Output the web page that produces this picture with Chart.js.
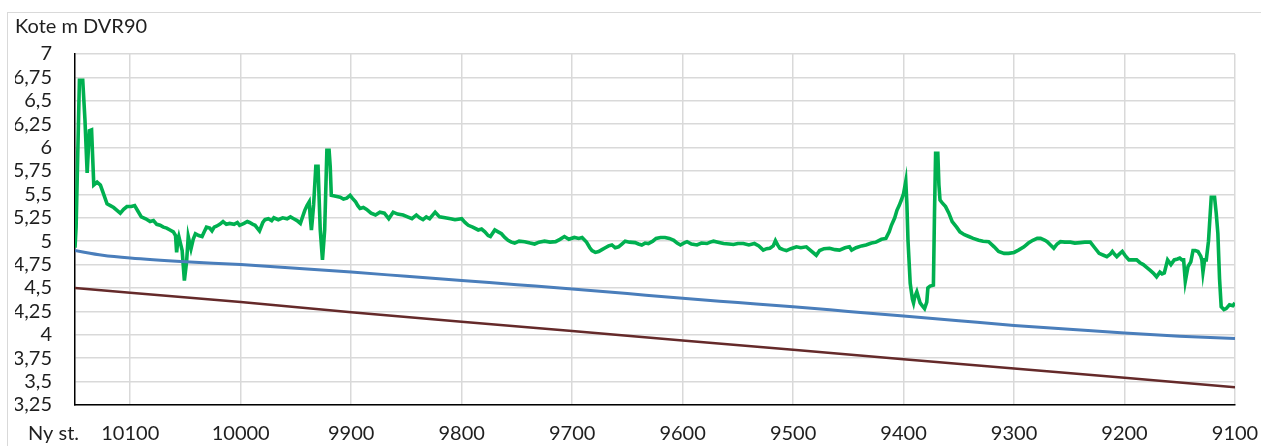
<!DOCTYPE html>
<html>
<head>
<meta charset="utf-8">
<script src="https://cdn.jsdelivr.net/npm/chart.js@4/dist/chart.umd.min.js"></script>
<style>
  body { margin: 0; background: #fff; overflow: hidden; }
  #frame { position: absolute; left: 7px; top: 12px; width: 1300px; height: 500px; border: 1px solid #d9d9d9; }
  #c { position: absolute; left: 0; top: 0; }
</style>
</head>
<body>
<div id="frame"></div>
<canvas id="c" width="1261" height="446"></canvas>
<script>
// stationering (Ny st.) og kote i m DVR90
var xTickValues = [10100, 10000, 9900, 9800, 9700, 9600, 9500, 9400, 9300, 9200, 9100];

// målt terræn (grøn)
var greenStations = [
  10150, 10149, 10146, 10143, 10141, 10139, 10137, 10135, 10133, 10130, 10127, 10124, 10121, 10118, 10115, 10112,
  10109, 10106, 10103, 10099, 10096, 10093, 10090, 10086, 10082, 10079, 10076, 10073, 10070, 10067, 10064, 10061,
  10059, 10058, 10057, 10056, 10054, 10053, 10051, 10049, 10047.5, 10045, 10043, 10041, 10038, 10035, 10033, 10031,
  10028, 10026, 10024, 10022, 10019, 10016, 10013, 10010, 10006, 10003, 10001, 9997, 9994, 9992, 9989, 9987,
  9985, 9983, 9980, 9978, 9975, 9972, 9970, 9966, 9962, 9958, 9955, 9952, 9949, 9946, 9944, 9942,
  9940, 9938, 9937, 9936, 9935, 9934, 9932, 9930, 9929, 9928, 9926, 9924, 9922, 9920, 9919, 9918,
  9914, 9910, 9907, 9904, 9901, 9899, 9896, 9894, 9892, 9889, 9886, 9882, 9878, 9874, 9870, 9866,
  9862, 9858, 9853, 9849, 9845, 9841, 9838, 9835, 9832, 9829, 9824, 9820, 9815, 9810, 9806, 9800,
  9797, 9794, 9790, 9785, 9782, 9779, 9776, 9774, 9770, 9767, 9764, 9761, 9758, 9755, 9752, 9748,
  9743, 9738, 9734, 9730, 9725, 9720, 9715, 9711, 9707, 9703, 9698, 9694, 9691, 9687, 9684, 9682,
  9679, 9676, 9673, 9670, 9667, 9664, 9661, 9658, 9655, 9652, 9648, 9643, 9640, 9637, 9634, 9631,
  9627, 9624, 9620, 9616, 9612, 9608, 9605, 9602, 9599, 9596, 9592, 9587, 9583, 9578, 9575, 9572,
  9568, 9563, 9558, 9554, 9550, 9545, 9540, 9535, 9531, 9527, 9524, 9521, 9518, 9516, 9514, 9512,
  9509, 9506, 9502, 9497, 9493, 9488, 9484, 9479, 9476, 9472, 9467, 9462, 9458, 9453, 9449, 9447,
  9443, 9438, 9434, 9429, 9425, 9420, 9416, 9413, 9411, 9408, 9406, 9404, 9402, 9400, 9398, 9397,
  9396, 9394, 9392, 9391, 9390, 9388, 9386, 9385, 9383, 9381, 9379, 9378, 9376, 9373, 9372, 9371,
  9369, 9368, 9367, 9365, 9362, 9359, 9356, 9352, 9349, 9345, 9341, 9337, 9332, 9328, 9323, 9318,
  9314, 9309, 9305, 9300, 9296, 9291, 9287, 9283, 9279, 9276, 9272, 9270, 9267, 9264, 9261, 9258,
  9254, 9249, 9245, 9240, 9236, 9231, 9227, 9223, 9219, 9216, 9213, 9211, 9209, 9207, 9204, 9202,
  9199, 9196, 9192, 9189, 9186, 9183, 9180, 9177, 9174, 9171, 9168, 9166, 9164, 9161, 9158, 9155,
  9152, 9150, 9148, 9146.5, 9145, 9142.5, 9140, 9138, 9136, 9133.5, 9131, 9130, 9129, 9127.5, 9126, 9124,
  9123, 9121.5, 9118.5, 9117, 9115.5, 9114, 9112.5, 9110, 9108, 9105, 9102, 9100
];
var greenLevels = [
  4.93, 5.15, 6.72, 6.72, 6.30, 5.73, 6.18, 6.19, 5.60, 5.63, 5.60, 5.50, 5.40, 5.38, 5.36, 5.33,
  5.30, 5.34, 5.37, 5.37, 5.38, 5.32, 5.26, 5.24, 5.21, 5.22, 5.18, 5.17, 5.15, 5.14, 5.12, 5.10,
  5.06, 4.88, 5.00, 5.05, 4.95, 4.90, 4.58, 4.78, 5.05, 4.92, 5.02, 5.08, 5.06, 5.05, 5.10, 5.15,
  5.14, 5.11, 5.15, 5.16, 5.18, 5.21, 5.18, 5.19, 5.18, 5.20, 5.17, 5.19, 5.21, 5.20, 5.18, 5.17,
  5.14, 5.11, 5.20, 5.23, 5.24, 5.22, 5.25, 5.23, 5.25, 5.24, 5.26, 5.24, 5.22, 5.19, 5.26, 5.33,
  5.38, 5.42, 5.25, 5.12, 5.25, 5.39, 5.80, 5.80, 5.45, 5.12, 4.80, 5.12, 5.97, 5.97, 5.80, 5.49,
  5.48, 5.47, 5.45, 5.46, 5.49, 5.46, 5.42, 5.38, 5.35, 5.36, 5.34, 5.30, 5.28, 5.31, 5.30, 5.24,
  5.31, 5.29, 5.28, 5.26, 5.24, 5.28, 5.25, 5.23, 5.26, 5.24, 5.31, 5.26, 5.25, 5.24, 5.23, 5.24,
  5.20, 5.17, 5.15, 5.12, 5.13, 5.10, 5.06, 5.05, 5.12, 5.10, 5.08, 5.04, 5.01, 4.99, 4.98, 5.00,
  4.995, 4.98, 4.97, 4.99, 5.00, 4.99, 4.995, 5.02, 5.05, 5.02, 5.04, 5.03, 5.04, 4.99, 4.93, 4.90,
  4.88, 4.89, 4.91, 4.93, 4.95, 4.96, 4.93, 4.94, 4.97, 5.00, 4.99, 4.985, 4.97, 4.96, 4.98, 4.975,
  5.00, 5.03, 5.04, 5.04, 5.03, 5.01, 4.98, 4.96, 4.98, 4.995, 4.97, 4.96, 4.98, 4.975, 4.99, 5.00,
  4.99, 4.975, 4.97, 4.965, 4.975, 4.975, 4.96, 4.975, 4.95, 4.905, 4.92, 4.925, 4.95, 5.005, 4.96, 4.925,
  4.91, 4.90, 4.92, 4.94, 4.93, 4.94, 4.90, 4.85, 4.90, 4.92, 4.925, 4.91, 4.905, 4.93, 4.94, 4.905,
  4.93, 4.95, 4.96, 4.98, 4.99, 5.02, 5.03, 5.10, 5.17, 5.25, 5.33, 5.38, 5.44, 5.51, 5.64, 5.40,
  5.01, 4.55, 4.38, 4.34, 4.40, 4.46, 4.38, 4.34, 4.31, 4.28, 4.35, 4.50, 4.52, 4.53, 5.30, 5.94,
  5.94, 5.60, 5.44, 5.41, 5.37, 5.30, 5.21, 5.15, 5.10, 5.07, 5.05, 5.03, 5.01, 5.00, 4.995, 4.94,
  4.89, 4.87, 4.87, 4.88, 4.905, 4.94, 4.98, 5.01, 5.03, 5.03, 5.01, 4.995, 4.96, 4.925, 4.97, 4.995,
  4.99, 4.99, 4.98, 4.985, 4.99, 4.99, 4.93, 4.87, 4.85, 4.835, 4.86, 4.89, 4.86, 4.835, 4.87, 4.89,
  4.84, 4.80, 4.80, 4.80, 4.77, 4.75, 4.72, 4.69, 4.66, 4.62, 4.67, 4.65, 4.66, 4.80, 4.75, 4.80,
  4.81, 4.82, 4.80, 4.80, 4.57, 4.73, 4.78, 4.90, 4.90, 4.89, 4.84, 4.80, 4.67, 4.80, 4.80, 5.00,
  5.19, 5.47, 5.47, 5.30, 5.08, 4.60, 4.30, 4.27, 4.28, 4.32, 4.31, 4.34
];

// blå linje
var blueStations = [10150, 10125, 10100, 10050, 10000, 9950, 9900, 9850, 9800, 9750, 9700, 9650, 9600, 9550, 9500, 9450, 9400, 9350, 9300, 9250, 9200, 9150, 9100];
var blueLevels = [4.90, 4.85, 4.82, 4.78, 4.75, 4.71, 4.67, 4.625, 4.58, 4.535, 4.49, 4.44, 4.39, 4.345, 4.30, 4.25, 4.20, 4.15, 4.10, 4.06, 4.02, 3.985, 3.96];

// brun linje
var brownStations = [10150, 10100, 10000, 9900, 9800, 9700, 9600, 9500, 9400, 9300, 9200, 9100];
var brownLevels = [4.50, 4.45, 4.35, 4.24, 4.14, 4.04, 3.94, 3.84, 3.74, 3.64, 3.54, 3.44];

function toPoints(xs, ys) {
  return xs.map(function (x, i) { return { x: x, y: ys[i] }; });
}

var font = { family: 'Lato', size: 20, weight: 'normal' };
var textColor = '#1f1f1f';

// "Ny st." under y-aksen
var nyStPlugin = {
  id: 'nySt',
  afterDraw: function (chart) {
    var ctx = chart.ctx;
    ctx.save();
    ctx.font = '20px Lato';
    ctx.fillStyle = textColor;
    ctx.textAlign = 'left';
    ctx.textBaseline = 'middle';
    ctx.fillText('Ny st.', 28, 434);
    ctx.restore();
  }
};

new Chart(document.getElementById('c'), {
  type: 'line',
  data: {
    datasets: [
      { data: toPoints(brownStations, brownLevels), borderColor: '#652a2a', borderWidth: 2.5, tension: 0 },
      { data: toPoints(blueStations, blueLevels), borderColor: '#4a7ebb', borderWidth: 3, cubicInterpolationMode: 'monotone' },
      { data: toPoints(greenStations, greenLevels), borderColor: '#00b050', borderWidth: 3.6, tension: 0 }
    ]
  },
  options: {
    responsive: false,
    animation: false,
    elements: { point: { radius: 0 } },
    layout: { padding: { left: 15, top: 10, right: 26, bottom: 0 } },
    plugins: {
      legend: { display: false },
      tooltip: { enabled: false },
      title: {
        display: true,
        text: 'Kote m DVR90',
        align: 'start',
        color: textColor,
        font: font,
        padding: { top: 5, bottom: 15 }
      }
    },
    scales: {
      x: {
        type: 'linear',
        reverse: true,
        min: 9100,
        max: 10150,
        afterBuildTicks: function (axis) {
          axis.ticks = xTickValues.map(function (v) { return { value: v }; });
        },
        afterFit: function (axis) {
          axis.height = 41;
          axis.paddingLeft = 0;
          axis.paddingRight = 0;
        },
        grid: { color: '#d9d9d9', lineWidth: 1.5, drawTicks: false },
        border: { display: true, color: '#000', width: 1.5 },
        ticks: {
          autoSkip: false,
          maxRotation: 0,
          padding: 17,
          color: textColor,
          font: font,
          callback: function (v) { return String(v); }
        }
      },
      y: {
        min: 3.25,
        max: 7,
        afterFit: function (axis) { axis.width = 60; },
        grid: { color: '#d9d9d9', lineWidth: 1.5, drawTicks: false },
        border: { display: true, color: '#000', width: 1.5 },
        ticks: {
          autoSkip: false,
          stepSize: 0.25,
          padding: 23,
          color: textColor,
          font: font,
          callback: function (v) { return String(v).replace('.', ','); }
        }
      }
    }
  },
  plugins: [nyStPlugin]
});
</script>
</body>
</html>
